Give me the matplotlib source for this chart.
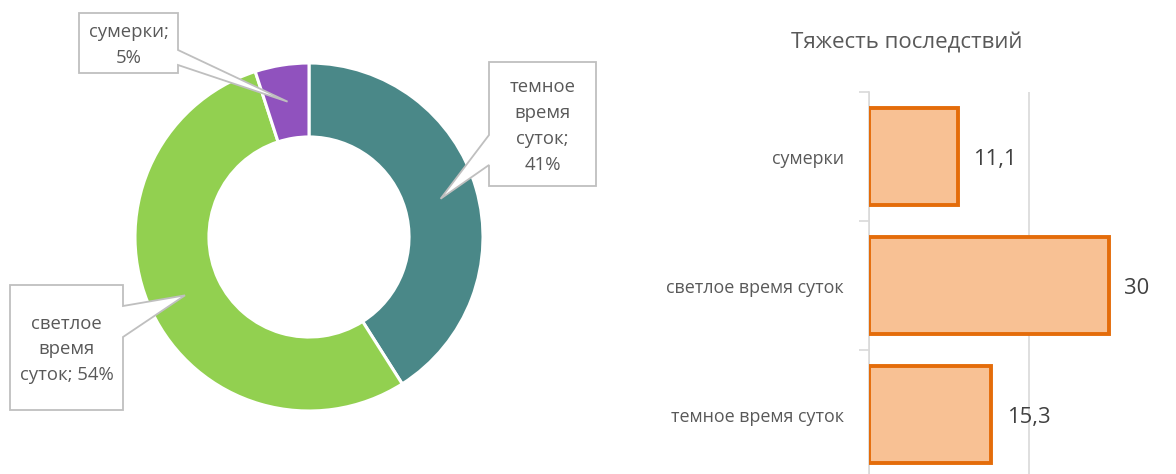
import numpy as np
import matplotlib
matplotlib.use("Agg")
import matplotlib.pyplot as plt
from matplotlib.patches import Polygon

# ---- data ----
pie_labels = ["темное время суток", "светлое время суток", "сумерки"]
pie_values = [41, 54, 5]
pie_colors = ["#4A8888", "#92D050", "#9052BE"]
callout_texts = ["темное\nвремя\nсуток;\n41%", "светлое\nвремя\nсуток; 54%", "сумерки;\n5%"]

bar_categories = ["сумерки", "светлое время суток", "темное время суток"]
bar_values = [11.1, 30, 15.3]
bar_title = "Тяжесть последствий"

W, H = 1176, 474
plt.rcParams['font.family'] = ['Open Sans', 'DejaVu Sans']
TXT = "#595959"
GRID = "#D9D9D9"

fig = plt.figure(figsize=(W / 100, H / 100), dpi=100)


def fr(x, y):
    return (x / W, 1 - y / H)


# ---- donut ----
cx, cy, R = 309, 237, 174
axp = fig.add_axes([(cx - R) / W, (H - cy - R) / H, 2 * R / W, 2 * R / H])
hole = 0.575
axp.pie(pie_values, colors=pie_colors, startangle=90, counterclock=False,
        radius=1, wedgeprops=dict(width=1 - hole, edgecolor="white", linewidth=2.2))
axp.set_xlim(-1, 1)
axp.set_ylim(-1, 1)
axp.set_aspect("equal")
axp.axis("off")

# tips at the middle of each ring segment
total = float(sum(pie_values))
cum = np.cumsum([0] + pie_values[:-1])
tips = []
fig.canvas.draw()
for c, v in zip(cum, pie_values):
    mid = (c + v / 2) / total * 360
    ang = np.deg2rad(90 - mid)
    rr = (1 + hole) / 2
    dx, dy = axp.transData.transform((rr * np.cos(ang), rr * np.sin(ang)))
    tips.append((dx, H - dy))

# boxes: (x0, y0, x1, y1), side of pointer, base y's
boxes = [
    ((489, 62, 596, 186), "left", (135, 165)),
    ((10, 285, 123, 410), "right", (306, 337)),
    ((79, 13, 178, 73), "right", (50, 65)),
]

for (b, side, (ya, yb)), tip, txt in zip(boxes, tips, callout_texts):
    x0, y0, x1, y1 = b
    if side == "right":
        pts = [(x0, y0), (x1, y0), (x1, ya), tip, (x1, yb), (x1, y1), (x0, y1)]
    else:
        pts = [(x0, y0), (x1, y0), (x1, y1), (x0, y1), (x0, yb), tip, (x0, ya)]
    poly = Polygon([fr(*p) for p in pts], closed=True, facecolor="white",
                   edgecolor="#BFBFBF", linewidth=1.3, transform=fig.transFigure, zorder=3)
    fig.add_artist(poly)
    fig.text(*fr((x0 + x1) / 2, (y0 + y1) / 2 + 2), txt, ha="center", va="center",
             fontsize=13.3, color=TXT, linespacing=1.57, zorder=4)

# ---- bar chart ----
x_left, x_right, y_top, y_bot = 869, W, 92, 479
scale = 8.0  # px per unit
axb = fig.add_axes([x_left / W, (H - y_bot) / H, (x_right - x_left) / W, (y_bot - y_top) / H])
ypos = np.arange(len(bar_categories))
axb.barh(ypos, bar_values, height=0.75, color="#F8C194", edgecolor="#E46C0A",
         linewidth=2.8, zorder=3)
axb.set_xticks([0, 20, 40])
axb.set_xlim(0, (x_right - x_left) / scale)
axb.set_ylim(len(bar_categories) - 0.5, -0.5)
axb.xaxis.grid(True, color=GRID, linewidth=1.2, zorder=0)
axb.tick_params(axis="x", length=0, labelbottom=False)
axb.set_yticks(ypos)
axb.set_yticklabels(bar_categories, fontsize=12.9, color=TXT)
axb.tick_params(axis="y", length=0, pad=18)
axb.set_yticks(np.arange(len(bar_categories) + 1) - 0.5, minor=True)
axb.set_ylim(len(bar_categories) - 0.5, -0.5)
axb.tick_params(axis="y", which="minor", length=7, color=GRID, width=1.2)
for s in ["top", "right", "bottom"]:
    axb.spines[s].set_visible(False)
axb.spines["left"].set_color(GRID)
axb.spines["left"].set_linewidth(1.2)
axb.set_axisbelow(True)
for yv, v in zip(ypos, bar_values):
    axb.annotate(f"{v:g}".replace(".", ","), (v, yv), xytext=(11, -2),
                 textcoords="offset points", ha="left", va="center",
                 fontsize=15.8, color="#404040")

fig.text(*fr(907, 43), bar_title, ha="center", va="center", fontsize=16, color=TXT)

fig.savefig("out.png", dpi=100)
